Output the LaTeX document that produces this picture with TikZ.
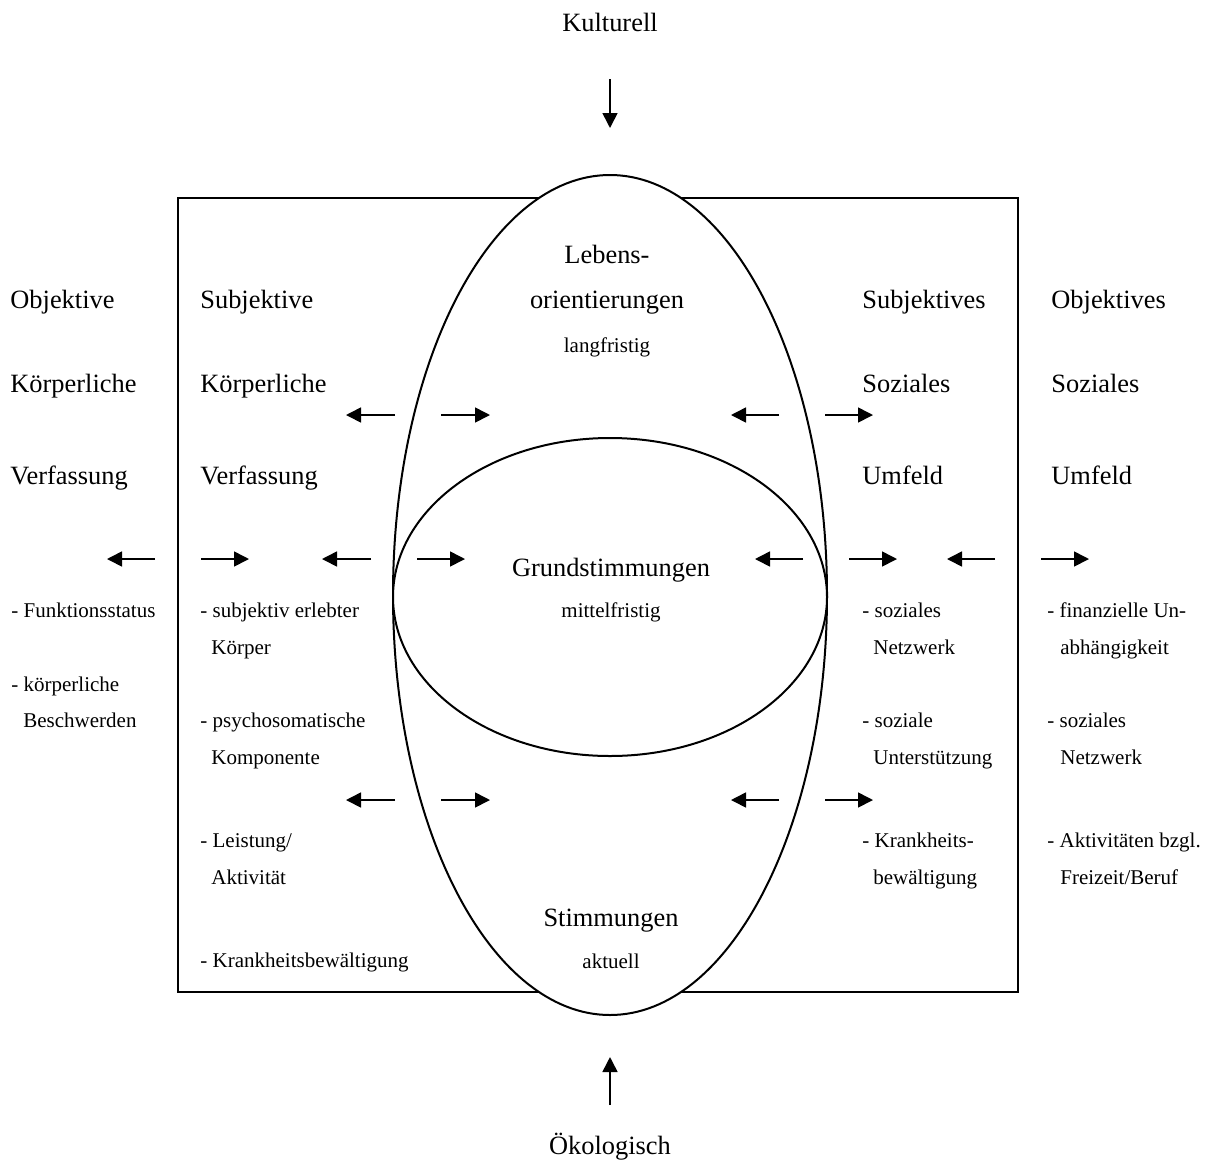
\documentclass[tikz,border=0pt]{standalone}
\usepackage{fontspec}
\setmainfont{Liberation Serif}
\usetikzlibrary{arrows.meta,shapes.geometric}
\tikzstyle{hd}=[anchor=base west,inner sep=0pt,font=\fontsize{13.2}{15}\selectfont]
\tikzstyle{hdc}=[anchor=base,inner sep=0pt,font=\fontsize{13.2}{15}\selectfont]
\tikzstyle{lst}=[anchor=base west,inner sep=0pt,font=\fontsize{10.5}{12.5}\selectfont]
\tikzstyle{lstc}=[anchor=base,inner sep=0pt,font=\fontsize{10.5}{12.5}\selectfont]
\tikzstyle{arr}=[-{Triangle[length=7.5pt,width=7.5pt]},line width=0.8pt]
\tikzstyle{oval}=[ellipse,draw,line width=1pt,fill=white,inner sep=0pt]
\begin{document}
\begin{tikzpicture}[x=0.5pt,y=-0.5pt]
            \useasboundingbox (0,0) rectangle (1215,1163);
            % frame and ovals
            \draw[line width=1pt] (178,198) rectangle (1018,992);
            \node[oval,minimum width=217pt,minimum height=420pt] (lang) at (610,595) {};
            \node[oval,minimum width=217pt,minimum height=159pt] (mittel) at (610,597) {};
            % top and bottom
            \node[hdc] (kult) at (610,31) {Kulturell};
            \node[hdc] (oeko) at (610,1154) {Ökologisch};
            \coordinate (k1) at (610,79); \coordinate (k2) at (610,128);
            \draw[arr] (k1) -- (k2);
            \coordinate (o1) at (610,1105); \coordinate (o2) at (610,1057);
            \draw[arr] (o1) -- (o2);
            % left headings
            \node[hd] (objA) at (10,308) {Objektive};
            \node[hd] (objB) at (10,392) {Körperliche};
            \node[hd] (objC) at (10,484) {Verfassung};
            \node[hd] (subA) at (200,308) {Subjektive};
            \node[hd] (subB) at (200,392) {Körperliche};
            \node[hd] (subC) at (200,484) {Verfassung};
            % right headings
            \node[hd] (ssA) at (862,308) {Subjektives};
            \node[hd] (ssB) at (862,392) {Soziales};
            \node[hd] (ssC) at (862,484) {Umfeld};
            \node[hd] (osA) at (1051,308) {Objektives};
            \node[hd] (osB) at (1051,392) {Soziales};
            \node[hd] (osC) at (1051,484) {Umfeld};
            % centre
            \node[hdc] (leb1) at (607,263) {Lebens-};
            \node[hdc] (leb2) at (607,308) {orientierungen};
            \node[lstc] (leb3) at (607,352) {langfristig};
            \node[hdc] (gru1) at (611,576) {Grundstimmungen};
            \node[lstc] (gru2) at (611,617) {mittelfristig};
            \node[hdc] (sti1) at (611,926) {Stimmungen};
            \node[lstc] (sti2) at (611,968) {aktuell};
            % lists
            \node[lst] (ol1) at (11,617) {- Funktionsstatus};
            \node[lst] (ol2) at (11,691) {- körperliche};
            \node[lst] (ol3) at (23,727) {Beschwerden};
            \node[lst] (sl1) at (200,617) {- subjektiv erlebter};
            \node[lst] (sl2) at (211,654) {Körper};
            \node[lst] (sl3) at (200,727) {- psychosomatische};
            \node[lst] (sl4) at (211,764) {Komponente};
            \node[lst] (sl5) at (200,847) {- Leistung/};
            \node[lst] (sl6) at (211,884) {Aktivität};
            \node[lst] (sl7) at (200,967) {- Krankheitsbewältigung};
            \node[lst] (sr1) at (862,617) {- soziales};
            \node[lst] (sr2) at (873,654) {Netzwerk};
            \node[lst] (sr3) at (862,727) {- soziale};
            \node[lst] (sr4) at (873,764) {Unterstützung};
            \node[lst] (sr5) at (862,847) {- Krankheits-};
            \node[lst] (sr6) at (873,884) {bewältigung};
            \node[lst] (or1) at (1047,617) {- finanzielle Un-};
            \node[lst] (or2) at (1060,654) {abhängigkeit};
            \node[lst] (or3) at (1047,727) {- soziales};
            \node[lst] (or4) at (1060,764) {Netzwerk};
            \node[lst] (or5) at (1047,847) {- Aktivitäten bzgl.};
            \node[lst] (or6) at (1060,884) {Freizeit/Beruf};
            % arrows, upper row
            \coordinate (a1) at (395,415); \coordinate (b1) at (346,415);
            \draw[arr] (a1) -- (b1);
            \coordinate (a2) at (441,415); \coordinate (b2) at (490,415);
            \draw[arr] (a2) -- (b2);
            \coordinate (a3) at (779,415); \coordinate (b3) at (731,415);
            \draw[arr] (a3) -- (b3);
            \coordinate (a4) at (825,415); \coordinate (b4) at (873,415);
            \draw[arr] (a4) -- (b4);
            % arrows, middle row
            \coordinate (a5) at (155,559); \coordinate (b5) at (107,559);
            \draw[arr] (a5) -- (b5);
            \coordinate (a6) at (201,559); \coordinate (b6) at (249,559);
            \draw[arr] (a6) -- (b6);
            \coordinate (a7) at (371,559); \coordinate (b7) at (322,559);
            \draw[arr] (a7) -- (b7);
            \coordinate (a8) at (417,559); \coordinate (b8) at (465,559);
            \draw[arr] (a8) -- (b8);
            \coordinate (a9) at (803,559); \coordinate (b9) at (755,559);
            \draw[arr] (a9) -- (b9);
            \coordinate (a10) at (849,559); \coordinate (b10) at (897,559);
            \draw[arr] (a10) -- (b10);
            \coordinate (a11) at (995,559); \coordinate (b11) at (947,559);
            \draw[arr] (a11) -- (b11);
            \coordinate (a12) at (1041,559); \coordinate (b12) at (1089,559);
            \draw[arr] (a12) -- (b12);
            % arrows, lower row
            \coordinate (a13) at (395,800); \coordinate (b13) at (346,800);
            \draw[arr] (a13) -- (b13);
            \coordinate (a14) at (441,800); \coordinate (b14) at (490,800);
            \draw[arr] (a14) -- (b14);
            \coordinate (a15) at (779,800); \coordinate (b15) at (731,800);
            \draw[arr] (a15) -- (b15);
            \coordinate (a16) at (825,800); \coordinate (b16) at (873,800);
            \draw[arr] (a16) -- (b16);
        \end{tikzpicture}
\end{document}
